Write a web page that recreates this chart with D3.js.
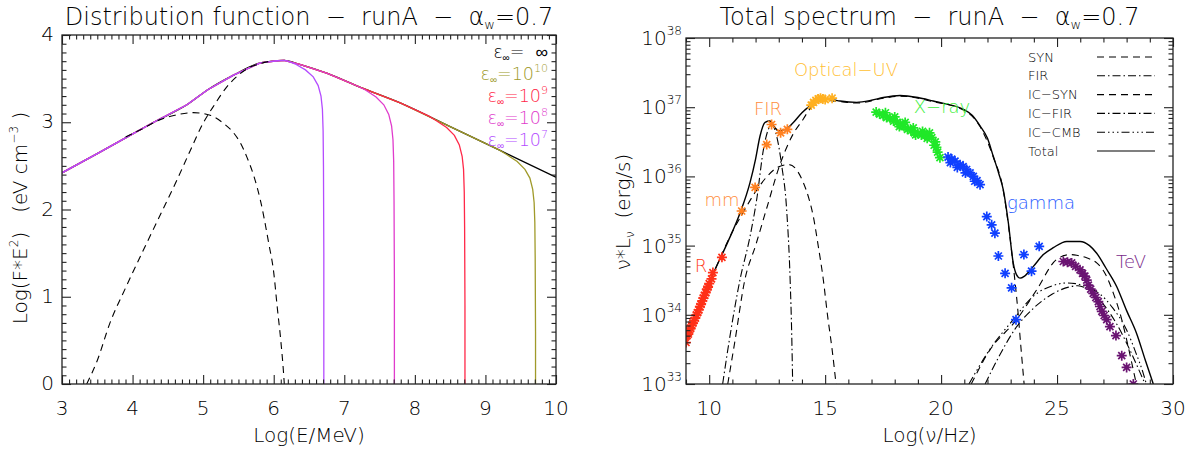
<!DOCTYPE html>
<html><head><meta charset="utf-8">
<script src="https://cdn.jsdelivr.net/npm/d3@7"></script>
<style>
body{margin:0;background:#fff}
svg{display:block}
text{font-family:'DejaVu Sans',sans-serif;font-weight:200;white-space:pre}
</style></head>
<body><svg id="c" width="1192" height="450"></svg>
<script>
// ---------------- LEFT PANEL DATA (log E/MeV , log F*E^2) ----------------
const distTotal=[[3,2.42],[3.5,2.64],[3.92,2.83],[4.3,3.0],[4.77,3.2],[5.06,3.37],[5.43,3.54],[5.81,3.68],[6.05,3.705],[6.15,3.71],[6.38,3.66],[6.76,3.56],[7.23,3.4],[7.8,3.22],[8.5,2.95],[9.2,2.68],[10,2.37]];
const distLow=[[3.9,2.83],[4.0,2.87],[4.15,2.93],[4.39,3.03],[4.6,3.08],[4.86,3.11],[5.1,3.08],[5.3,2.98],[5.43,2.88],[5.53,2.76],[5.62,2.6],[5.72,2.38],[5.81,2.11],[5.93,1.61],[6.0,1.28],[6.05,0.88],[6.1,0.5],[6.14,0.12],[6.15,0]];
const distHigh=[[3.35,0],[3.5,0.27],[3.68,0.7],[3.9,1.1],[4.15,1.53],[4.4,1.95],[4.63,2.34],[4.82,2.68],[5.0,2.99],[5.16,3.2],[5.33,3.4],[5.5,3.54],[5.66,3.63],[5.8,3.67],[5.95,3.7]];
const tail7=[[6.2,3.7],[6.3,3.67],[6.45,3.6],[6.56,3.52],[6.63,3.42],[6.67,3.3],[6.69,3.15],[6.7,2.9],[6.705,2.5],[6.71,1.5],[6.71,0]];
const tail8=[[7.2,3.41],[7.3,3.37],[7.45,3.29],[7.56,3.2],[7.63,3.09],[7.67,2.96],[7.69,2.8],[7.7,2.55],[7.705,2.1],[7.71,1.2],[7.71,0]];
const tail9=[[8.2,3.07],[8.3,3.02],[8.45,2.94],[8.56,2.85],[8.63,2.74],[8.67,2.61],[8.69,2.46],[8.7,2.2],[8.705,1.8],[8.71,0.9],[8.71,0]];
const tail10=[[9.2,2.68],[9.3,2.63],[9.45,2.55],[9.56,2.46],[9.63,2.36],[9.67,2.23],[9.69,2.08],[9.7,1.85],[9.705,1.45],[9.71,0.6],[9.71,0]];
const cutLabels=["∞","10","10","10","10"];
const cutExps=["","10","9","8","7"];
const cutColors=["#000000","#a09a2a","#ff2848","#e03ccc","#b44cff"];
const leftXTicks=[3,4,5,6,7,8,9,10];
const leftYTicks=[0,1,2,3,4];

// ---------------- RIGHT PANEL DATA (log nu/Hz , log nuL_nu) ----------------
const specTotal=[[9.0,33.72],[9.5,34.05],[10.18,34.6],[10.8,35.05],[11.33,35.47],[11.76,35.91],[12.0,36.25],[12.19,36.58],[12.41,36.78],[12.62,36.8],[12.8,36.72],[12.98,36.66],[13.3,36.68],[13.63,36.78],[14.0,36.92],[14.35,37.02],[14.92,37.12],[15.3,37.11],[15.64,37.09],[16.36,37.07],[17.0,37.1],[17.51,37.14],[18.23,37.17],[19.0,37.14],[19.66,37.09],[20.3,37.04],[20.96,36.97],[21.35,36.88],[21.68,36.73],[22.0,36.55],[22.25,36.29],[22.48,36.05],[22.68,35.81],[22.9,35.33],[23.11,34.75],[23.25,34.58],[23.4,34.53],[23.6,34.56],[23.98,34.7],[24.41,34.87],[24.84,34.97],[25.42,35.06],[25.99,35.06],[26.4,35.0],[26.71,34.89],[27.1,34.68],[27.57,34.41],[28.0,34.06],[28.43,33.73],[28.8,33.35],[29.15,33.0]];
const synLow=[[9.0,33.72],[10.18,34.6],[11.0,35.2],[11.5,35.5],[12.0,35.78],[12.5,36.0],[13.0,36.14],[13.45,36.17],[13.8,36.08],[14.06,35.91],[14.3,35.68],[14.49,35.42],[14.7,35.0],[14.92,34.51],[15.1,34.0],[15.3,33.5],[15.47,33.0]];
const synHigh=[[10.8,33.0],[11.1,33.6],[11.54,34.51],[12.0,35.0],[12.48,35.54],[13.05,36.17],[13.6,36.6],[14.06,36.83],[14.35,36.98],[14.92,37.1],[15.64,37.08],[16.36,37.06],[17.51,37.13],[18.23,37.16],[19.66,37.08],[20.96,36.96],[21.68,36.72],[22.25,36.28],[22.68,35.8],[22.9,35.3],[23.11,34.72],[23.3,34.1],[23.45,33.5],[23.58,33.0]];
const firComp=[[10.58,33.0],[10.9,33.7],[11.33,34.51],[11.76,35.13],[12.05,35.67],[12.34,36.39],[12.55,36.68],[12.69,36.75],[12.91,36.58],[13.13,36.15],[13.34,35.52],[13.49,34.51],[13.56,33.7],[13.6,33.0]];
const icSyn=[[21.3,33.0],[22.1,33.49],[23.26,33.93],[24.12,34.36],[24.98,34.8],[25.56,34.87],[25.85,34.86],[26.3,34.82],[26.71,34.75],[27.1,34.58],[27.43,34.31],[27.75,33.98],[28.0,33.64],[28.29,33.2],[28.42,33.0]];
const icFir=[[21.9,33.0],[22.5,33.4],[23.2,33.8],[24.0,34.1],[24.8,34.3],[25.5,34.4],[25.9,34.42],[26.4,34.35],[27.0,34.15],[27.6,33.85],[28.2,33.45],[28.6,33.15],[28.8,33.0]];
const icCmb=[[21.2,33.0],[22.1,33.5],[23.11,33.93],[23.98,34.27],[24.8,34.42],[25.42,34.46],[25.8,34.45],[26.3,34.4],[26.85,34.3],[27.4,34.1],[28.0,33.78],[28.4,33.45],[28.72,33.15],[28.85,33.0]];

const radioPts=[[9.0,33.6],[9.05,33.7],[9.1,33.72],[9.15,33.78],[9.2,33.8],[9.25,33.85],[9.3,33.88],[9.35,33.92],[9.4,33.95],[9.45,34.0],[9.5,34.03],[9.55,34.07],[9.6,34.12],[9.65,34.15],[9.7,34.2],[9.75,34.24],[9.8,34.28],[9.85,34.32],[9.9,34.37],[9.95,34.4],[10.0,34.45],[10.1,34.52],[10.16,34.61],[10.55,34.83]];
const mmPts=[[11.4,35.5],[11.98,35.84]];
const firPts=[[12.48,36.46],[12.69,36.75],[13.08,36.63],[13.37,36.68]];
const optPts=[[14.4,37.03],[14.5,37.07],[14.6,37.1],[14.7,37.12],[14.8,37.13],[14.9,37.12],[15.0,37.11],[15.3,37.13]];
const xrayPts=[[17.2,36.93],[17.35,36.9],[17.5,36.88],[17.6,36.92],[17.65,36.85],[17.8,36.84],[17.95,36.8],[18.0,36.86],[18.1,36.78],[18.2,36.72],[18.25,36.76],[18.4,36.72],[18.45,36.78],[18.55,36.68],[18.7,36.66],[18.8,36.7],[18.85,36.63],[18.9,36.6],[19.0,36.62],[19.15,36.6],[19.2,36.65],[19.3,36.6],[19.4,36.55],[19.45,36.58],[19.5,36.63],[19.6,36.56],[19.7,36.45],[19.75,36.5],[19.8,36.42],[19.85,36.35],[19.95,36.27]];
const gammaPts=[[20.3,36.28],[20.4,36.2],[20.46,36.25],[20.6,36.22],[20.7,36.13],[20.82,36.17],[20.95,36.14],[21.05,36.05],[21.1,36.1],[21.25,36.05],[21.39,36.0],[21.45,35.93],[21.55,35.94],[21.68,35.88],[21.97,35.42],[22.18,35.3],[22.32,35.18],[22.47,34.85],[22.76,34.6],[23.04,34.39],[23.23,33.93],[23.57,34.87],[23.9,34.63],[24.23,34.99]];
const tevPts=[[25.27,34.77],[25.45,34.76],[25.63,34.75],[25.8,34.7],[25.99,34.65],[26.1,34.6],[26.2,34.56],[26.28,34.5],[26.35,34.43],[26.45,34.37],[26.56,34.31],[26.67,34.25],[26.78,34.19],[26.85,34.12],[26.93,34.05],[27.03,33.99],[27.14,33.93],[27.28,33.83],[27.54,33.7],[27.79,33.41],[28.0,33.24],[28.29,33.0]];
const rightXTicks=[10,15,20,25,30];
const decades=[33,34,35,36,37,38];

// ---------------- DRAWING ----------------
const svg=d3.select('#c');
const LP={x0:62,x1:556,y0:35,y1:384};
const RP={x0:686,x1:1173,y0:38,y1:384};
const INK='#000';

function frame(P){
  svg.append('rect').attr('x',P.x0).attr('y',P.y0).attr('width',P.x1-P.x0).attr('height',P.y1-P.y0)
    .attr('fill','none').attr('stroke','#222').attr('stroke-width',1.3);
}
function tickAxes(P,x,y,xMaj,xMin,yMaj,yMin){
  const ax=(gen,tr,vals,len)=>{
    const a=svg.append('g').attr('transform',tr).call(gen.tickValues(vals).tickSize(len).tickSizeOuter(0).tickFormat(''));
    a.select('.domain').remove();
    a.selectAll('line').attr('stroke','#222').attr('stroke-width',1.1);
  };
  ax(d3.axisBottom(x),`translate(0,${P.y1})`,xMaj,-9);
  ax(d3.axisBottom(x),`translate(0,${P.y1})`,xMin,-4.5);
  ax(d3.axisTop(x),`translate(0,${P.y0})`,xMaj,-9);
  ax(d3.axisTop(x),`translate(0,${P.y0})`,xMin,-4.5);
  ax(d3.axisLeft(y),`translate(${P.x0},0)`,yMaj,-9);
  ax(d3.axisLeft(y),`translate(${P.x0},0)`,yMin,-4.5);
  ax(d3.axisRight(y),`translate(${P.x1},0)`,yMaj,-9);
  ax(d3.axisRight(y),`translate(${P.x1},0)`,yMin,-4.5);
}
function clip(id,P){
  svg.append('clipPath').attr('id',id).append('rect').attr('x',P.x0).attr('y',P.y0).attr('width',P.x1-P.x0).attr('height',P.y1-P.y0);
}
function title(P,txt){
  const t=svg.append('text').attr('x',(P.x0+P.x1)/2).attr('y',25).attr('text-anchor','middle').attr('font-size',24).attr('fill',INK);
  t.append('tspan').text(txt+'α');
  t.append('tspan').attr('font-size',13).attr('dy',4).text('w');
  t.append('tspan').attr('dy',-4).text('=0.7');
}

// ---- Left panel ----
const xL=d3.scaleLinear().domain([3,10]).range([LP.x0,LP.x1]);
const yL=d3.scaleLinear().domain([0,4]).range([LP.y1,LP.y0]);
clip('cl',LP);
const lineL=d3.line().x(d=>xL(d[0])).y(d=>yL(d[1])).curve(d3.curveMonotoneX);
const gL=svg.append('g').attr('clip-path','url(#cl)');
gL.append('path').attr('d',lineL(distTotal)).attr('fill','none').attr('stroke',cutColors[0]).attr('stroke-width',1.3);
const tails=[tail10,tail9,tail8,tail7];
tails.forEach((t,i)=>{
  const pts=distTotal.filter(d=>d[0]<t[0][0]).concat(t);
  gL.append('path').attr('d',d3.line().x(d=>xL(d[0])).y(d=>yL(d[1])).curve(d3.curveLinear)(pts))
    .attr('fill','none').attr('stroke',cutColors[i+1]).attr('stroke-width',1.3);
});
[distLow,distHigh].forEach(s=>gL.append('path').attr('d',lineL(s)).attr('fill','none').attr('stroke','#000').attr('stroke-width',1.1).attr('stroke-dasharray','7,5'));

const xMinL=d3.range(30,101).map(v=>v/10).filter(v=>v%1!==0);
const yMinL=d3.range(0,41).map(v=>v/10).filter(v=>v%1!==0);
tickAxes(LP,xL,yL,leftXTicks,xMinL,leftYTicks,yMinL);
frame(LP);
leftXTicks.forEach(v=>svg.append('text').attr('x',xL(v)).attr('y',415).attr('text-anchor','middle').attr('font-size',20).attr('fill',INK).text(v));
leftYTicks.forEach(v=>svg.append('text').attr('x',LP.x0-8).attr('y',yL(v)+6).attr('text-anchor','end').attr('font-size',20).attr('fill',INK).text(v));
svg.append('text').attr('x',(LP.x0+LP.x1)/2).attr('y',442).attr('text-anchor','middle').attr('font-size',20).attr('fill',INK).text('Log(E/MeV)');
{
  const t=svg.append('text').attr('transform','translate(27,218) rotate(-90)').attr('text-anchor','middle').attr('font-size',20).attr('fill',INK);
  t.append('tspan').text('Log(F*E');
  t.append('tspan').attr('font-size',12).attr('dy',-9).text('2');
  t.append('tspan').attr('dy',9).text(')   (eV cm');
  t.append('tspan').attr('font-size',12).attr('dy',-9).text('−3');
  t.append('tspan').attr('dy',9).text(' )');
}
title(LP,'Distribution function  −  runA  −  ');
// legend left
cutLabels.forEach((lab,i)=>{
  const t=svg.append('text').attr('x',548).attr('y',58+i*22).attr('text-anchor','end').attr('font-size',17.5).attr('fill',cutColors[i]);
  t.append('tspan').text('ε');
  t.append('tspan').attr('font-size',10).attr('dy',3).text('∞');
  t.append('tspan').attr('dy',-3).text(i===0?'=  ∞':'='+lab);
  if(cutExps[i]) t.append('tspan').attr('font-size',11).attr('dy',-8).text(cutExps[i]);
});

// ---- Right panel ----
const xR=d3.scaleLinear().domain([9,30]).range([RP.x0,RP.x1]);
const yR=d3.scaleLog().domain([1e33,1e38]).range([RP.y1,RP.y0]);
clip('cr',RP);
const lineR=d3.line().x(d=>xR(d[0])).y(d=>yR(Math.pow(10,d[1]))).curve(d3.curveMonotoneX);
const gR=svg.append('g').attr('clip-path','url(#cr)');
const comps=[
  [synLow,'7,5'],[synHigh,'7,5'],[firComp,'8,3,1.5,3'],
  [icSyn,'7,5'],[icFir,'8,3,1.5,3'],[icCmb,'8,3,1.5,3,1.5,3,1.5,3']
];
comps.forEach(([s,da])=>gR.append('path').attr('d',lineR(s)).attr('fill','none').attr('stroke','#000').attr('stroke-width',1.1).attr('stroke-dasharray',da));
gR.append('path').attr('d',lineR(specTotal)).attr('fill','none').attr('stroke','#000').attr('stroke-width',1.4);

const star=r=>`M${-r},0L${r},0M0,${-r}L0,${r}M${-r*.7},${-r*.7}L${r*.7},${r*.7}M${-r*.7},${r*.7}L${r*.7},${-r*.7}`;
const ptSets=[[radioPts,'#ff3018'],[mmPts,'#ff8020'],[firPts,'#ff8020'],[optPts,'#ffb020'],[xrayPts,'#20e828'],[gammaPts,'#1040ff'],[tevPts,'#6a1472']];
ptSets.forEach(([pts,c])=>{
  gR.selectAll(null).data(pts).enter().append('path')
    .attr('transform',d=>`translate(${xR(d[0])},${yR(Math.pow(10,d[1]))})`)
    .attr('d',star(5)).attr('stroke',c).attr('stroke-width',1.7).attr('fill','none');
});
// region labels
const regLabels=[['R',701,272,'#ff3a20'],['mm',722,206,'#ff8c3a'],['FIR',768,115,'#ff8c3a'],['Optical−UV',846,76,'#ffbe32'],['X−ray',942,113,'#3cee3c'],['gamma',1041,209,'#2a5cff'],['TeV',1131,268,'#7a2a8a']];
regLabels.forEach(([t,x,y,c])=>svg.append('text').attr('x',x).attr('y',y).attr('text-anchor','middle').attr('font-size',18).attr('fill',c).text(t));

const xMinR=d3.range(9,31).filter(v=>v%5!==0);
const yMinR=[];decades.slice(0,-1).forEach(d=>{for(let k=2;k<10;k++)yMinR.push(k*Math.pow(10,d));});
tickAxes(RP,xR,yR,rightXTicks,xMinR,decades.map(d=>Math.pow(10,d)),yMinR);
frame(RP);
rightXTicks.forEach(v=>svg.append('text').attr('x',xR(v)).attr('y',415).attr('text-anchor','middle').attr('font-size',20).attr('fill',INK).text(v));
decades.forEach(d=>{
  const t=svg.append('text').attr('x',RP.x0-4).attr('y',yR(Math.pow(10,d))+7).attr('text-anchor','end').attr('font-size',20).attr('fill',INK);
  t.append('tspan').text('10');
  t.append('tspan').attr('font-size',12).attr('dy',-10).text(d);
});
{
  const t=svg.append('text').attr('x',(RP.x0+RP.x1)/2).attr('y',442).attr('text-anchor','middle').attr('font-size',20).attr('fill',INK);
  t.append('tspan').text('Log(ν/Hz)');
  const u=svg.append('text').attr('transform','translate(630,212) rotate(-90)').attr('text-anchor','middle').attr('font-size',20).attr('fill',INK);
  u.append('tspan').text('ν*L');
  u.append('tspan').attr('font-size',12).attr('dy',4).text('ν');
  u.append('tspan').attr('dy',-4).text('  (erg/s)');
}
title(RP,'Total spectrum  −  runA  −  ');
// legend right
const legNames=['SYN','FIR','IC−SYN','IC−FIR','IC−CMB','Total'];
const legDash=['7,5','8,3,1.5,3','7,5','8,3,1.5,3','8,3,1.5,3,1.5,3,1.5,3',null];
const legY=d3.scalePoint().domain(legNames).range([57,151]);
legNames.forEach((n,i)=>{
  svg.append('text').attr('x',1028).attr('y',legY(n)+4.5).attr('font-size',13).attr('fill',INK).text(n);
  const l=svg.append('line').attr('x1',1097).attr('x2',1155).attr('y1',legY(n)).attr('y2',legY(n)).attr('stroke','#000').attr('stroke-width',1.1);
  if(legDash[i]) l.attr('stroke-dasharray',legDash[i]);
});
</script></body></html>
